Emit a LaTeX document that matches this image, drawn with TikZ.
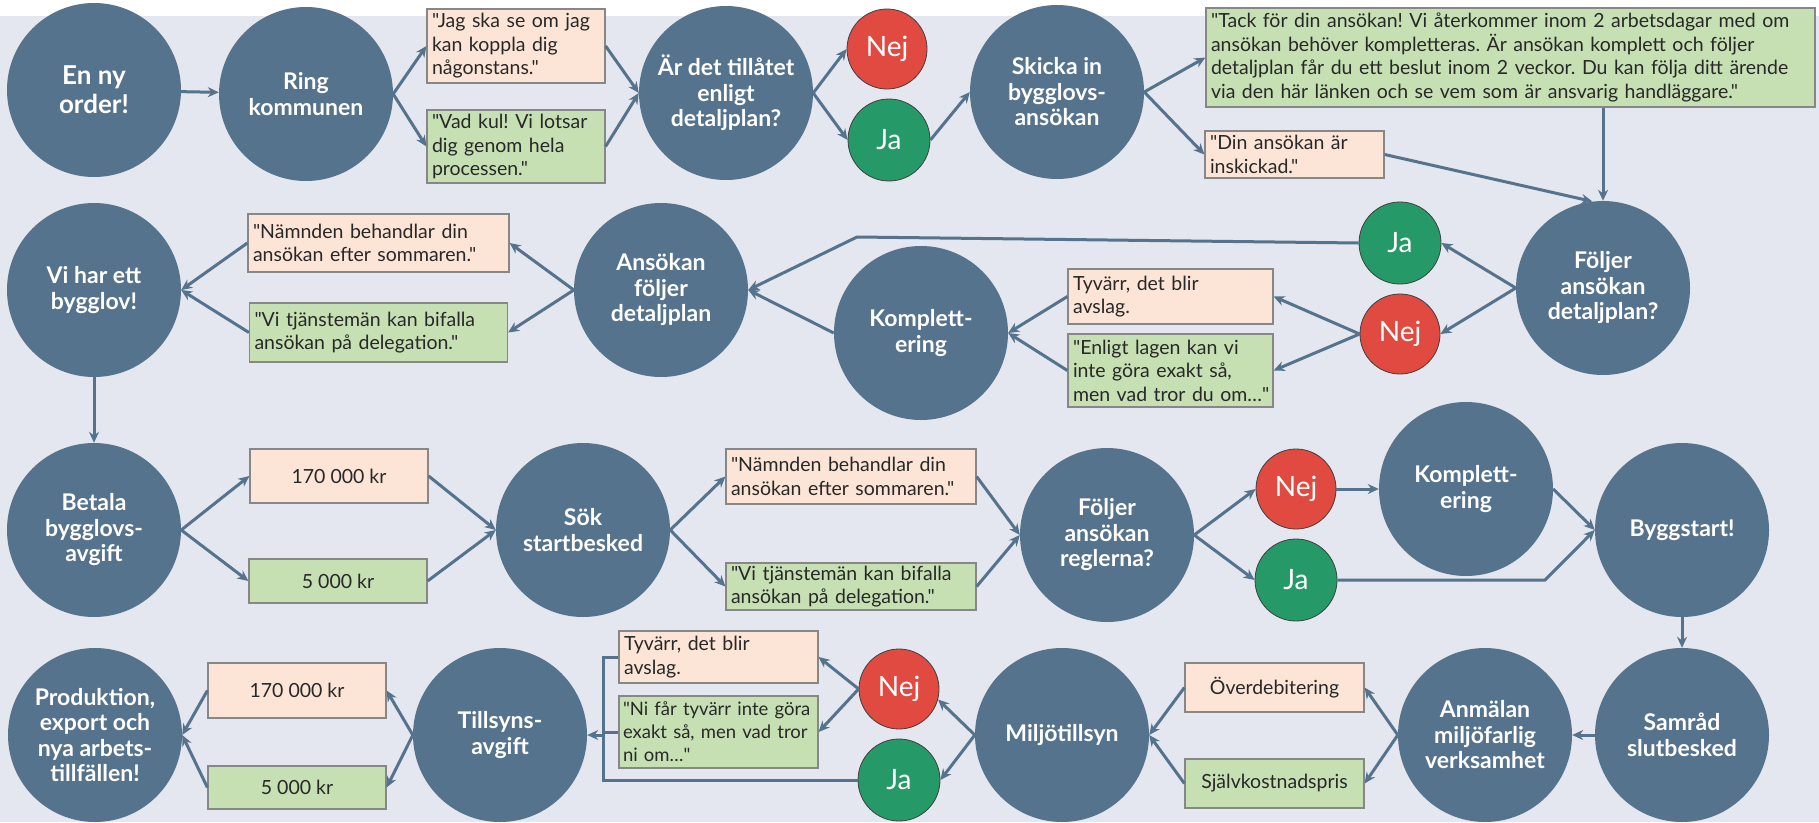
\documentclass[tikz,border=0pt]{standalone}
\usepackage{fontspec}
\setmainfont{Lato}[Ligatures=TeXOff]
\usetikzlibrary{arrows.meta,calc}
\definecolor{bg}{RGB}{228,231,239}
\definecolor{slate}{RGB}{86,115,141}
\definecolor{nejred}{RGB}{224,74,64}
\definecolor{jagreen}{RGB}{38,153,104}
\definecolor{peach}{RGB}{252,229,214}
\definecolor{mint}{RGB}{198,224,180}
\definecolor{boxline}{RGB}{135,135,135}
\definecolor{ink}{RGB}{40,40,40}
\frenchspacing
\begin{document}
\begin{tikzpicture}[x=1pt,y=-1pt,
  bubble/.style={circle, fill=slate, minimum size=174pt, inner sep=0pt, text=white, align=center,
    font=\fontsize{23}{25.5}\selectfont\bfseries},
  yesnode/.style={circle, fill=jagreen, draw=black!75, line width=0.8pt, minimum size=82pt, inner sep=0pt,
    text=white, font=\fontsize{28}{30}\selectfont},
  nonode/.style={yesnode, fill=nejred, minimum size=80pt},
  pbox/.style={rectangle, draw=boxline, line width=1.2pt, fill=peach, inner xsep=5pt, inner ysep=1pt,
    text=ink, font=\fontsize{19.5}{23.5}\selectfont, align=left},
  gbox/.style={pbox, fill=mint},
  flow/.style={draw=slate, line width=3pt, -{Stealth[length=11pt,width=10pt]}},
  link/.style={draw=slate, line width=3pt, line join=miter},
]
\useasboundingbox (0,0) rectangle (1819,822);
\fill[white] (0,0) rectangle (1819,822);
\fill[bg] (0,16) rectangle (1819,822);

% ---------- row 1 ----------
\node[bubble, font=\fontsize{26}{29}\selectfont\bfseries] (enny) at (94,90) {En ny\\order!};
\node[bubble] (ring) at (306,94) {Ring\\kommunen};
\node[pbox, minimum width=178pt, minimum height=74pt, text width=168pt] (jag) at (516,46)
  {\mbox{"Jag ska se om jag}\\\mbox{kan koppla dig}\\\mbox{någonstans."}};
\node[gbox, minimum width=178pt, minimum height=73pt, text width=168pt] (vad) at (516,146.5)
  {\mbox{"Vad kul! Vi lotsar}\\\mbox{dig genom hela}\\\mbox{processen."}};
\node[bubble] (ardet) at (726,93) {Är det tillåtet\\enligt\\detaljplan?};
\node[nonode] (nej1) at (887,49) {Nej};
\node[yesnode] (ja1) at (889,140) {Ja};
\node[bubble] (skicka) at (1057,92) {Skicka in\\bygglovs-\\ansökan};
\node[gbox, minimum width=609pt, minimum height=99pt, text width=599pt] (tack) at (1510.5,57.5)
  {\mbox{"Tack för din ansökan! Vi återkommer inom 2 arbetsdagar med om}\\
   \mbox{ansökan behöver kompletteras. Är ansökan komplett och följer}\\
   \mbox{detaljplan får du ett beslut inom 2 veckor. Du kan följa ditt ärende}\\
   \mbox{via den här länken och se vem som är ansvarig handläggare."}};
\node[pbox, minimum width=179pt, minimum height=47pt, text width=169pt] (din) at (1294.5,154.5)
  {\mbox{"Din ansökan är}\\\mbox{inskickad."}};

% ---------- row 2 ----------
\node[bubble] (foljerdp) at (1603,288) {Följer\\ansökan\\detaljplan?};
\node[yesnode] (ja2) at (1400,243) {Ja};
\node[nonode] (nej2) at (1400,334) {Nej};
\node[pbox, minimum width=205pt, minimum height=55pt, text width=195pt] (tyvarr1) at (1170.5,296.5)
  {\mbox{Tyvärr, det blir}\\\mbox{avslag.}};
\node[gbox, minimum width=205pt, minimum height=73pt, text width=195pt] (enligt) at (1170.5,370.5)
  {\mbox{"Enligt lagen kan vi}\\\mbox{inte göra exakt så,}\\\mbox{men vad tror du om…"}};
\node[bubble] (kompl1) at (921,333) {Komplett-\\ering};
\node[bubble] (ansfdp) at (661,290) {Ansökan\\följer\\detaljplan};
\node[pbox, minimum width=261pt, minimum height=58pt, text width=251pt] (namnden1) at (378.5,243)
  {\mbox{"Nämnden behandlar din}\\\mbox{ansökan efter sommaren."}};
\node[gbox, minimum width=258pt, minimum height=59pt, text width=248pt] (vitj1) at (378.5,332.5)
  {\mbox{"Vi tjänstemän kan bifalla}\\\mbox{ansökan på delegation."}};
\node[bubble] (vihar) at (94,290) {Vi har ett\\bygglov!};

% ---------- row 3 ----------
\node[bubble] (betala) at (94,530) {Betala\\bygglovs-\\avgift};
\node[pbox, align=center, minimum width=178pt, minimum height=54pt] (k170a) at (339,476) {170 000 kr};
\node[gbox, align=center, minimum width=178pt, minimum height=44pt] (k5a) at (338,581) {5 000 kr};
\node[bubble] (sok) at (583,530) {Sök\\startbesked};
\node[pbox, minimum width=250pt, minimum height=55pt, text width=240pt] (namnden2) at (851,476.5)
  {\mbox{"Nämnden behandlar din}\\\mbox{ansökan efter sommaren."}};
\node[gbox, minimum width=250pt, minimum height=47pt, text width=240pt] (vitj2) at (851,586.5)
  {\mbox{"Vi tjänstemän kan bifalla}\\\mbox{ansökan på delegation."}};
\node[bubble] (foljr) at (1107,535) {Följer\\ansökan\\reglerna?};
\node[nonode] (nej3) at (1296,489) {Nej};
\node[yesnode] (ja3) at (1296,580) {Ja};
\node[bubble] (kompl2) at (1466,489) {Komplett-\\ering};
\node[bubble] (bygg) at (1682,530) {Byggstart!};

% ---------- row 4 ----------
\node[bubble] (samrad) at (1682,735) {Samråd\\slutbesked};
\node[bubble] (anmal) at (1485,735) {Anmälan\\miljöfarlig\\verksamhet};
\node[pbox, align=center, minimum width=179pt, minimum height=49pt] (overdeb) at (1274.5,687.5) {Överdebitering};
\node[gbox, align=center, minimum width=179pt, minimum height=49pt] (sjalv) at (1274.5,783.5) {Självkostnadspris};
\node[bubble] (miljo) at (1062,735) {Miljötillsyn};
\node[nonode] (nej4) at (899,689) {Nej};
\node[yesnode] (ja4) at (899,780) {Ja};
\node[pbox, minimum width=199pt, minimum height=52pt, text width=189pt] (tyvarr2) at (718.5,657)
  {\mbox{Tyvärr, det blir}\\\mbox{avslag.}};
\node[gbox, minimum width=199pt, minimum height=72pt, text width=191pt, inner xsep=4pt,
  font=\fontsize{18.5}{23}\selectfont] (nifar) at (718.5,732)
  {\mbox{"Ni får tyvärr inte göra}\\\mbox{exakt så, men vad tror}\\\mbox{ni om…"}};
\node[bubble] (tillsyn) at (500,735) {Tillsyns-\\avgift};
\node[pbox, align=center, minimum width=178pt, minimum height=55pt] (k170b) at (297,690.5) {170 000 kr};
\node[gbox, align=center, minimum width=178pt, minimum height=43pt] (k5b) at (297,787.5) {5 000 kr};
\node[bubble] (prod) at (95,735) {Produktion,\\export och\\nya arbets-\\tillfällen!};

\coordinate (ja2bend) at (857,237);
\coordinate (ja3bend) at (1545,580);
\coordinate (bx) at (603,735);

% ---------- connectors row 1 ----------
\draw[flow] (enny) -- (ring);
\draw[flow] (ring.east) -- (jag.west);
\draw[flow] (ring.east) -- (vad.west);
\draw[flow] (jag.east) -- (ardet.west);
\draw[flow] (vad.east) -- (ardet.west);
\draw[flow] (ardet.east) -- (nej1.west);
\draw[flow] (ardet.east) -- (ja1.west);
\draw[flow] (ja1.east) -- (skicka.west);
\draw[flow] (skicka.east) -- (tack.west);
\draw[flow] (skicka.east) -- (din.west);
\draw[flow] (tack.south -| foljerdp.north) -- (foljerdp.north);
\draw[flow] (din.east) -- (foljerdp.97);

% ---------- connectors row 2 ----------
\draw[flow] (foljerdp.west) -- (ja2.east);
\draw[flow] (foljerdp.west) -- (nej2.east);
\draw[flow] (ja2.west) -- (ja2bend) -- (ansfdp.east);
\draw[flow] (nej2.west) -- (tyvarr1.east);
\draw[flow] (nej2.west) -- (enligt.east);
\draw[flow] (tyvarr1.west) -- (kompl1.east);
\draw[flow] (enligt.west) -- (kompl1.east);
\draw[flow] (kompl1.west) -- (ansfdp.east);
\draw[flow] (ansfdp.west) -- (namnden1.east);
\draw[flow] (ansfdp.west) -- (vitj1.east);
\draw[flow] (namnden1.west) -- (vihar.east);
\draw[flow] (vitj1.west) -- (vihar.east);
\draw[flow] (vihar) -- (betala);

% ---------- connectors row 3 ----------
\draw[flow] (betala.east) -- (k170a.west);
\draw[flow] (betala.east) -- (k5a.west);
\draw[flow] (k170a.east) -- (sok.west);
\draw[flow] (k5a.east) -- (sok.west);
\draw[flow] (sok.east) -- (namnden2.west);
\draw[flow] (sok.east) -- (vitj2.west);
\draw[flow] (namnden2.east) -- (foljr.west);
\draw[flow] (vitj2.east) -- (foljr.west);
\draw[flow] (foljr.east) -- (nej3.west);
\draw[flow] (foljr.east) -- (ja3.west);
\draw[flow] (nej3) -- (kompl2);
\draw[flow] (kompl2.east) -- (bygg.west);
\draw[flow] (ja3.east) -- (ja3bend) -- (bygg.west);
\draw[flow] (bygg) -- (samrad);

% ---------- connectors row 4 ----------
\draw[flow] (samrad) -- (anmal);
\draw[flow] (anmal.west) -- (overdeb.east);
\draw[flow] (anmal.west) -- (sjalv.east);
\draw[flow] (overdeb.west) -- (miljo.east);
\draw[flow] (sjalv.west) -- (miljo.east);
\draw[flow] (miljo.west) -- (nej4.-15);
\draw[flow] (miljo.west) -- (ja4.east);
\draw[flow] (nej4.west) -- (tyvarr2.east);
\draw[flow] (nej4.west) -- (nifar.east);
\draw[link] (ja4.west) -- (ja4.west -| bx) |- (tyvarr2.west);
\draw[link] (nifar.west) -- (nifar.west -| bx);
\draw[flow] (tillsyn.east -| bx) -- (tillsyn.east);
\draw[flow] (tillsyn.west) -- (k170b.east);
\draw[flow] (tillsyn.west) -- (k5b.east);
\draw[flow] (k170b.west) -- (prod.east);
\draw[flow] (k5b.west) -- (prod.east);
\end{tikzpicture}
\end{document}
